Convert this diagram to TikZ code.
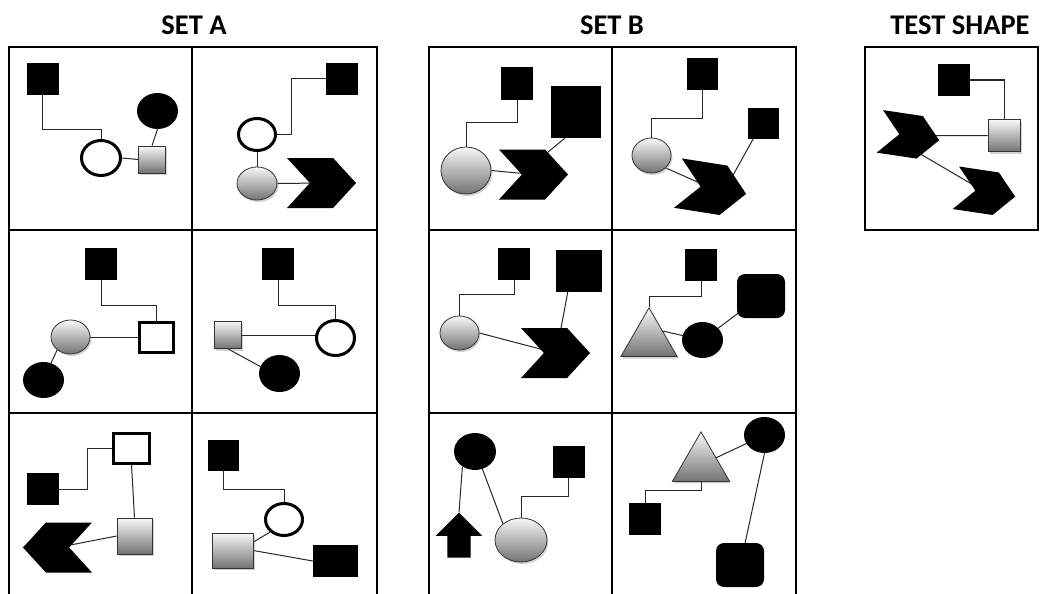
\documentclass[tikz,border=0pt]{standalone}
\usepackage{fontspec}
\setmainfont{Carlito}
\usetikzlibrary{shapes.geometric,shapes.symbols,shapes.arrows,shadows,backgrounds}

\begin{document}
\begin{tikzpicture}[
	x=1pt, y=-1pt,
	% Define the styles for the shapes
	blksq/.style={rectangle, fill=black, inner sep=0pt, minimum size=32},
	blkround/.style={blksq, rounded corners=8, minimum width=48, minimum height=44},
	blkell/.style={ellipse, fill=black, inner sep=0pt, minimum width=41, minimum height=36},
	whtell/.style={ellipse, draw, line width=3, fill=white, inner sep=0pt, minimum width=37, minimum height=32},
	whtsq/.style={rectangle, draw, line width=3, fill=white, inner sep=0pt, minimum width=34, minimum height=30},
	grey/.style={draw=black!80, line width=0.8, top color=black!3, bottom color=black!55,
		drop shadow={opacity=0.35, shadow xshift=1.5pt, shadow yshift=-2pt}},
	grysq/.style={grey, rectangle, inner sep=0pt, minimum size=27},
	gryell/.style={grey, ellipse, inner sep=0pt, minimum width=39, minimum height=34},
	grytri/.style={grey, regular polygon, regular polygon sides=3, inner sep=0pt, minimum size=65},
	chev/.style={signal, signal from=west, signal to=east, signal pointer angle=95,
		fill=black, inner sep=0pt, minimum width=69, minimum height=50},
	uparr/.style={single arrow, fill=black, inner xsep=0pt, inner ysep=11.5, rotate=90,
		minimum height=45, minimum width=46, single arrow head extend=11.5, single arrow tip angle=90},
	link/.style={draw=black!85, line width=1},
	frame/.style={line width=2.5},
	title/.style={font=\bfseries\fontsize{28.5}{32}\selectfont, inner sep=0pt}
	]
	\useasboundingbox (0,0) rectangle (1044,594);
	
	% --- FRAMES ---
	\foreach \l/\m/\r in {9/192/377, 429/612/796} {
		\draw[frame] (\l,597) -- (\l,47) -- (\r,47) -- (\r,597);
		\draw[frame] (\m,47) -- (\m,597);
		\draw[frame] (\l,230) -- (\r,230) (\l,413) -- (\r,413);
	}
	\draw[frame] (865,47) rectangle (1038,230);
	
	% --- TITLES ---
	\node[title] (seta) at (194,25) {SET A};
	\node[title] (setb) at (612,25) {SET B};
	\node[title] (test) at (960,25) {TEST SHAPE};
	
	% --- VERTICES ---
	% Format: \node (cell_shape) at (x,y) [style] {};
	
	% set A, row 1
	\node (a1sq)  at (42.5,79)   [blksq] {};
	\node (a1bel) at (157.5,111) [blkell] {};
	\node (a1wel) at (101,158)   [whtell, minimum width=39, minimum height=35] {};
	\node (a1gsq) at (152,159.5) [grysq] {};
	
	\node (a2sq)  at (342,79)    [blksq] {};
	\node (a2wel) at (257,134.5) [whtell] {};
	\node (a2gel) at (257,183.5) [gryell, minimum width=40, minimum height=33] {};
	\node (a2chv) at (321.5,183) [chev] {};
	
	% set A, row 2
	\node (a3sq)  at (101,263.5) [blksq] {};
	\node (a3wsq) at (156.5,337) [whtsq] {};
	\node (a3gel) at (70.5,337)  [gryell] {};
	\node (a3bel) at (43.5,380)  [blkell] {};
	
	\node (a4sq)  at (278,263.5) [blksq] {};
	\node (a4wel) at (335.5,338) [whtell, minimum width=38, minimum height=35] {};
	\node (a4gsq) at (228,335)   [grysq] {};
	\node (a4bel) at (279.5,373.5) [blkell, minimum height=37] {};
	
	% set A, row 3
	\node (a5wsq) at (131.5,448.5) [whtsq, minimum width=36] {};
	\node (a5sq)  at (42.5,489)  [blksq] {};
	\node (a5gsq) at (134.5,536) [grysq, minimum width=35, minimum height=36] {};
	\node (a5chv) at (57.5,547.5) [chev, signal from=east, signal to=west] {};
	
	\node (a6sq)  at (223.5,455) [blksq, minimum size=31] {};
	\node (a6wel) at (284,519.5) [whtell] {};
	\node (a6grc) at (232.5,550.5) [grysq, minimum width=41, minimum height=35] {};
	\node (a6brc) at (335.5,561) [blksq, minimum width=45, minimum height=32] {};
	
	% set B, row 1
	\node (b1sq)  at (517,83.5)  [blksq] {};
	\node (b1big) at (576,112)   [blksq, minimum width=50, minimum height=52] {};
	\node (b1gel) at (466,170.5) [gryell, minimum width=50, minimum height=47] {};
	\node (b1chv) at (533.5,174.5) [chev] {};
	
	\node (b2sq)  at (702.5,74)  [blksq, minimum size=31] {};
	\node (b2sq2) at (763.5,123) [blksq, minimum size=31] {};
	\node (b2gel) at (651.5,155.5) [gryell, minimum height=35] {};
	\node (b2chv) at (712,188.5) [chev, rotate=-9] {};
	
	% set B, row 2
	\node (b3sq)  at (514,264)   [blksq] {};
	\node (b3big) at (579,271)   [blksq, minimum width=46, minimum height=42] {};
	\node (b3gel) at (459.5,333) [gryell] {};
	\node (b3chv) at (555.5,353) [chev] {};
	
	\node (b4sq)  at (701,265)   [blksq] {};
	\node (b4rsq) at (761,296)   [blkround] {};
	\node (b4tri) at (649,340.3) [grytri] {};
	\node (b4bel) at (702.5,340) [blkell] {};
	
	% set B, row 3
	\node (b5bel) at (475,451.5) [blkell, minimum width=42, minimum height=37] {};
	\node (b5sq)  at (568.5,462) [blksq] {};
	\node (b5arr) at (459,541)   [uparr] {};
	\node (b5gel) at (521,540)   [gryell, minimum width=52, minimum height=44] {};
	
	\node (b6tri) at (701,464.9) [grytri, minimum size=66] {};
	\node (b6bel) at (764.5,435) [blkell] {};
	\node (b6sq)  at (645,519)   [blksq] {};
	\node (b6rsq) at (740,565)   [blkround] {};
	
	% test shape
	\node (tsq)  at (954,80)     [blksq] {};
	\node (tgsq) at (1004,135.5) [grysq, minimum size=32] {};
	\node (tch1) at (909.5,135.8) [chev, rotate=-8.5, minimum width=60, minimum height=43] {};
	\node (tch2) at (985.5,192.2) [chev, rotate=-8.5, minimum width=60, minimum height=43] {};
	
	% --- EDGES ---
	% drawn behind the shapes, so ends inside a filled shape are hidden
	\begin{scope}[on background layer]
		\draw[link] (a1sq.south) -- ++(0,34) -| (a1wel.north); % elbow
		\draw[link] (a1wel.east) -- (a1gsq.west);
		\draw[link] (a1gsq.north) -- (a1bel.south);
		
		\draw[link] (a2sq.west) -- ++(-34,0) |- (a2wel.east); % elbow
		\draw[link] (a2wel.south) -- (a2gel.north);
		\draw[link] (a2gel.east) -- (a2chv.center);
		
		\draw[link] (a3sq.south) -- ++(0,25.5) -| (a3wsq.north); % elbow
		\draw[link] (a3gel.east) -- (a3wsq.west);
		\draw[link] (a3gel.-136) -- (a3bel.66);
		
		\draw[link] (a4sq.south) -- ++(0,26) -| (a4wel.north); % elbow
		\draw[link] (a4gsq.east) -- (a4gsq.east -| a4wel.center);
		\draw[link] (a4gsq.south) -- (a4bel.160);
		
		\draw[link] (a5sq.east) -- ++(28.5,0) |- (a5wsq.west); % elbow
		\draw[link] (a5wsq.south) -- (a5gsq.north);
		\draw[link] (a5gsq.west) -- (a5chv.center);
		
		\draw[link] (a6sq.south) -- ++(0,18.5) -| (a6wel.north); % elbow
		\draw[link] (a6grc.22) -- (a6wel.-138);
		\draw[link] (a6grc.east) -- (a6brc.west);
		
		\draw[link] (b1sq.south) -- ++(0,22.5) -| (b1gel.north); % elbow
		\draw[link] (b1gel.east) -- (b1chv.center);
		\draw[link] (b1big.-113) -- ([shift={(-2.5,-8.5)}]b1chv.center);
		
		\draw[link] (b2sq.south) -- ++(0,28.5) -| (b2gel.north); % elbow
		\draw[link] (b2gel.-41) -- (b2chv.center);
		\draw[link] (b2sq2.-123) -- ([shift={(15,-2.5)}]b2chv.center);
		
		\draw[link] (b3sq.south) -- ++(0,14) -| (b3gel.north); % elbow
		\draw[link] (b3gel.east) -- (b3chv.center);
		\draw[link] (b3big.-118) -- ([shift={(3.5,-14)}]b3chv.center);
		
		\draw[link] (b4sq.south) -- ++(0,15) -| (b4tri.corner 1); % elbow
		\draw[link] ([shift={(6,-11)}]b4tri.center) -- (b4bel.center);
		\draw[link] (b4bel.center) -- (b4rsq.center);
		
		\draw[link] (b5bel.-130) -- (b5arr.tip);
		\draw[link] (b5bel.-67) -- (b5gel.138);
		\draw[link] (b5sq.south) -- ++(0,18) -| (b5gel.north); % elbow
		
		\draw[link] (b6sq.north) -- ++(0,-12) -| (b6tri.south); % elbow
		\draw[link] (b6tri.center) -- (b6bel.center);
		\draw[link] (b6bel.south) -- (b6rsq.77);
		
		\draw[link] (tsq.east) -| (tgsq.north); % elbow
		\draw[link] (tgsq.west) -- (tch1.center);
		\draw[link] ([shift={(-3,10)}]tch1.center) -- (tch2.center);
	\end{scope}
	
\end{tikzpicture}
\end{document}
